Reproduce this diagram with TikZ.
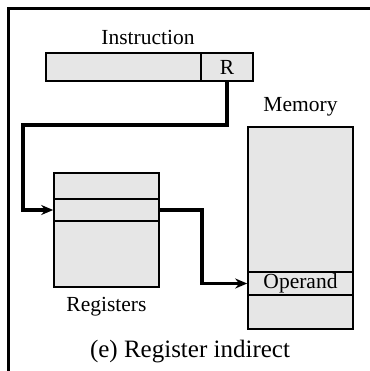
\documentclass[tikz,border=0pt]{standalone}
\usepackage{fontspec}
\setmainfont{Liberation Serif}
\usetikzlibrary{arrows.meta}
\definecolor{cellgray}{HTML}{E6E6E6}
\tikzset{
  cell/.style={draw=black, fill=cellgray, line width=1.6bp, inner sep=0pt,
               minimum width=105bp, font=\fontsize{21.5bp}{24bp}\selectfont},
  textlabel/.style={anchor=base, inner sep=0pt, font=\fontsize{21.5bp}{24bp}\selectfont},
  wire/.style={line width=3.4bp, -{Stealth[length=12bp,width=10bp]}},
}
\begin{document}
\begin{tikzpicture}[x=1bp, y=-1bp]
\useasboundingbox (0,0) rectangle (370,371);
% open frame: top and left edges only
\draw[line width=2.6bp] (8.5,371) -- (8.5,8.5) -- (371,8.5);

% instruction word
\node[textlabel] (instlabel) at (148,44) {Instruction};
\node[cell, minimum width=155bp, minimum height=28bp] (instr) at (123.5,67) {};
\node[cell, minimum width=52bp, minimum height=28bp] (rfield) at (227,67) {R};

% register file
\node[cell, minimum height=26bp] (reg1) at (106.5,186) {};
\node[cell, minimum height=22bp] (reg2) at (106.5,210) {};
\node[cell, minimum height=66bp] (reg3) at (106.5,254) {};
\node[textlabel] (reglabel) at (106.5,311) {Registers};

% memory
\node[textlabel] (memlabel) at (300.5,111) {Memory};
\node[cell, minimum height=145bp] (mem1) at (300.5,199.5) {};
\node[cell, minimum height=23bp] (operand) at (300.5,283.5) {Operand};
\node[cell, minimum height=34bp] (mem3) at (300.5,312) {};

% caption
\node[anchor=base, inner sep=0pt, font=\fontsize{25bp}{28bp}\selectfont] (caption) at (190,357) {(e) Register indirect};

% connectors
\coordinate (c1) at (23,125);
\coordinate (c2) at (202,283.5);
\draw[wire] (rfield.south) |- (c1) |- (reg2.west);
\draw[wire] (reg2.east) -| (c2) -- (operand.west);
\end{tikzpicture}
\end{document}
